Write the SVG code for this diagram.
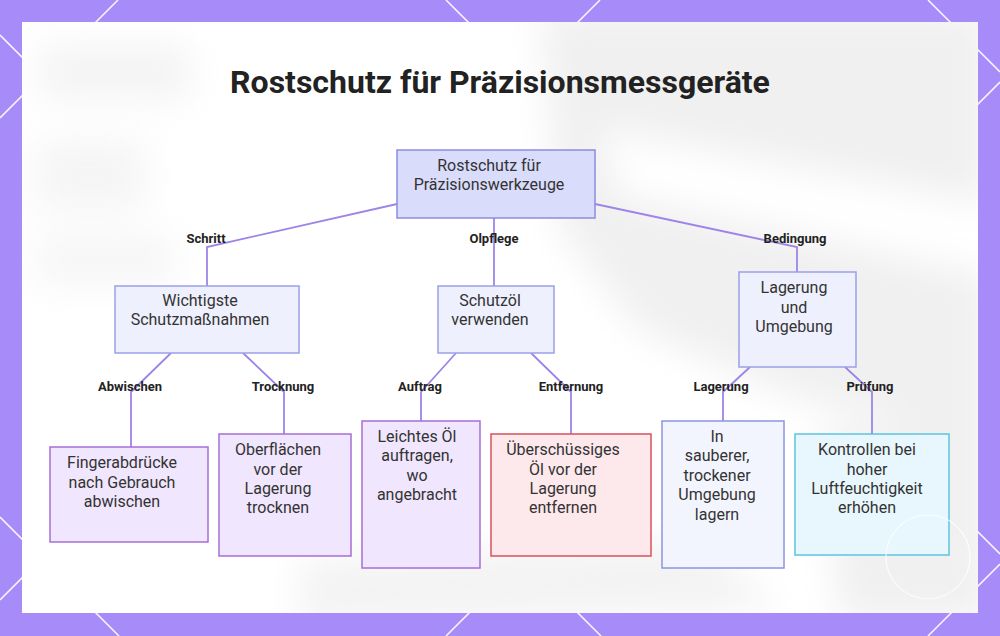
<svg xmlns="http://www.w3.org/2000/svg" width="1000" height="636" viewBox="0 0 1000 636">
<defs>
<style>
.lat{stroke:#ffffff;stroke-width:1.6;fill:none;opacity:0.9}
.title{font-family:Roboto,"Liberation Sans",sans-serif;font-weight:700;font-size:32px;fill:#222222;text-anchor:middle}
.nt{font-family:Roboto,"Liberation Sans",sans-serif;font-size:16px;fill:#333333;text-anchor:middle}
.el{font-family:Roboto,"Liberation Sans",sans-serif;font-weight:700;font-size:13px;fill:#222222;text-anchor:middle}
.edge{stroke:#9d85e8;stroke-width:1.8;fill:none}
.root{fill:#dadcfc;stroke:#8c8ce0;stroke-width:1.5}
.mid{fill:#eef0fd;stroke:#9aa0e8;stroke-width:1.5}
.pur{fill:#f0e6fd;stroke:#a66fd6;stroke-width:1.5}
.red{fill:#fde8ec;stroke:#d9505e;stroke-width:1.5}
.blu{fill:#f3f5fe;stroke:#8d94e0;stroke-width:1.5}
.cya{fill:#e7f7fd;stroke:#5cc4de;stroke-width:1.5}
</style>
<filter id="blur" x="-20%" y="-20%" width="140%" height="140%"><feGaussianBlur stdDeviation="18"/></filter>
<clipPath id="card"><rect x="22" y="22" width="956" height="591"/></clipPath>
</defs>
<rect x="0" y="0" width="1000" height="636" fill="#a78bf9"/>
<g id="lattice">
<line class="lat" x1="118" y1="0" x2="0" y2="118"/>
<line class="lat" x1="600" y1="0" x2="0" y2="600"/>
<line class="lat" x1="1000" y1="82" x2="446" y2="636"/>
<line class="lat" x1="1000" y1="564" x2="928" y2="636"/>
<line class="lat" x1="0" y1="35" x2="601" y2="636"/>
<line class="lat" x1="0" y1="517" x2="119" y2="636"/>
<line class="lat" x1="446" y1="0" x2="1000" y2="554"/>
<line class="lat" x1="928" y1="0" x2="1000" y2="72"/>
</g>
<rect x="22" y="22" width="956" height="591" fill="#ffffff"/>
<g id="backdrop" clip-path="url(#card)">
<g filter="url(#blur)">
<polygon points="540,10 990,10 990,440 800,400 640,330 560,230" fill="#f0f0f0"/>
<polygon points="600,130 990,205 990,275 620,195" fill="#ffffff"/>
<polygon points="300,560 700,540 780,610 300,625" fill="#f3f3f3"/>
<polygon points="820,430 990,420 990,620 840,620" fill="#f0f0f0"/>
</g>
<g filter="url(#blur)" opacity="0.6">
<rect x="40" y="45" width="150" height="55" fill="#ececec"/>
<rect x="35" y="140" width="110" height="70" fill="#eeeeee"/>
<rect x="35" y="235" width="140" height="50" fill="#f0f0f0"/>
</g>
</g>
<text class="title" x="500" y="93">Rostschutz für Präzisionsmessgeräte</text>
<g id="connectors">
<polyline class="edge" points="397,204 207,247 207,286"/>
<polyline class="edge" points="494,218 494,286"/>
<polyline class="edge" points="595,204 797,247 797,272"/>
<polyline class="edge" points="171,353 131,392 131,447"/>
<polyline class="edge" points="243,353 284,392 284,434"/>
<polyline class="edge" points="456,353 421,392 421,421"/>
<polyline class="edge" points="531,353 571,392 571,434"/>
<polyline class="edge" points="750,367 723,392 723,421"/>
<polyline class="edge" points="845,367 872,392 872,434"/>
<text class="el" x="206" y="243">Schritt</text>
<text class="el" x="494" y="243">Olpflege</text>
<text class="el" x="795" y="243">Bedingung</text>
<text class="el" x="130" y="391">Abwischen</text>
<text class="el" x="283" y="391">Trocknung</text>
<text class="el" x="420" y="391">Auftrag</text>
<text class="el" x="571" y="391">Entfernung</text>
<text class="el" x="721" y="391">Lagerung</text>
<text class="el" x="870" y="391">Prüfung</text>
</g>
<g id="root">
<rect class="root" x="397" y="150" width="198" height="68"/>
<text class="nt" x="489" y="171">Rostschutz für</text>
<text class="nt" x="489" y="190">Präzisionswerkzeuge</text>
</g>
<g id="wichtigste">
<rect class="mid" x="115" y="286" width="184" height="67"/>
<text class="nt" x="200" y="306">Wichtigste</text>
<text class="nt" x="200" y="325">Schutzmaßnahmen</text>
</g>
<g id="schutzoel">
<rect class="mid" x="438" y="286" width="116" height="67"/>
<text class="nt" x="490" y="306">Schutzöl</text>
<text class="nt" x="490" y="325">verwenden</text>
</g>
<g id="lagerung">
<rect class="mid" x="739" y="272" width="117" height="95"/>
<text class="nt" x="794" y="293">Lagerung</text>
<text class="nt" x="794" y="313">und</text>
<text class="nt" x="794" y="332">Umgebung</text>
</g>
<g id="finger">
<rect class="pur" x="50" y="447" width="158" height="95"/>
<text class="nt" x="122" y="468">Fingerabdrücke</text>
<text class="nt" x="122" y="488">nach Gebrauch</text>
<text class="nt" x="122" y="507">abwischen</text>
</g>
<g id="oberflaechen">
<rect class="pur" x="219" y="434" width="132" height="122"/>
<text class="nt" x="278" y="455">Oberflächen</text>
<text class="nt" x="278" y="475">vor der</text>
<text class="nt" x="278" y="494">Lagerung</text>
<text class="nt" x="278" y="513">trocknen</text>
</g>
<g id="leichtes">
<rect class="pur" x="362" y="421" width="118" height="147"/>
<text class="nt" x="417" y="442">Leichtes Öl</text>
<text class="nt" x="417" y="461">auftragen,</text>
<text class="nt" x="417" y="481">wo</text>
<text class="nt" x="417" y="500">angebracht</text>
</g>
<g id="ueberschuessiges">
<rect class="red" x="491" y="434" width="160" height="122"/>
<text class="nt" x="563" y="455">Überschüssiges</text>
<text class="nt" x="563" y="475">Öl vor der</text>
<text class="nt" x="563" y="494">Lagerung</text>
<text class="nt" x="563" y="513">entfernen</text>
</g>
<g id="sauberer">
<rect class="blu" x="662" y="421" width="122" height="147"/>
<text class="nt" x="717" y="442">In</text>
<text class="nt" x="717" y="461">sauberer,</text>
<text class="nt" x="717" y="481">trockener</text>
<text class="nt" x="717" y="500">Umgebung</text>
<text class="nt" x="717" y="520">lagern</text>
</g>
<g id="kontrollen">
<rect class="cya" x="795" y="434" width="154" height="121"/>
<text class="nt" x="867" y="455">Kontrollen bei</text>
<text class="nt" x="867" y="475">hoher</text>
<text class="nt" x="867" y="494">Luftfeuchtigkeit</text>
<text class="nt" x="867" y="513">erhöhen</text>
</g>
<circle cx="928" cy="557" r="42" fill="none" stroke="#ffffff" stroke-width="1.2" opacity="0.8"/>
</svg>
